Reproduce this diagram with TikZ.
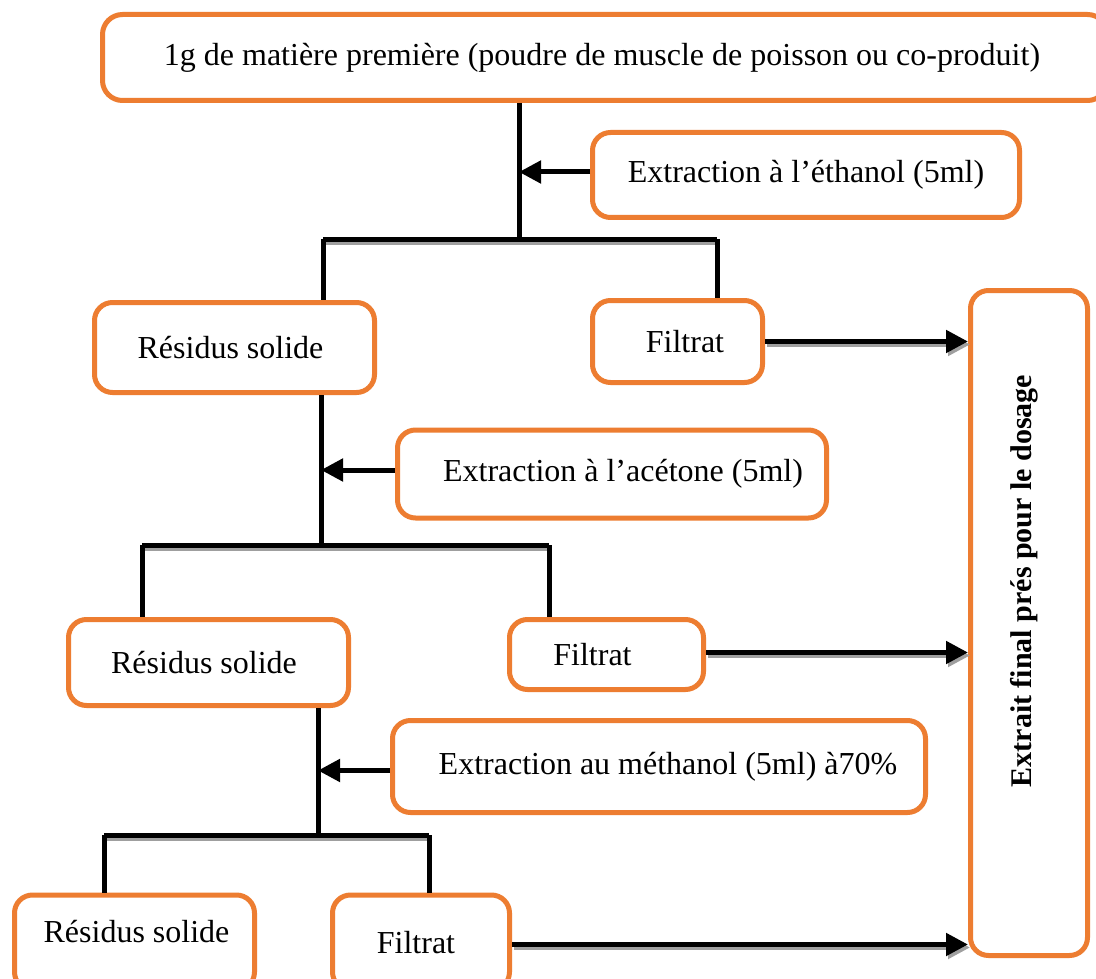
\documentclass[tikz,border=0pt]{standalone}
\usepackage{fontspec}
\setmainfont{Liberation Serif}
\usetikzlibrary{arrows.meta}
\definecolor{boxorange}{HTML}{ED7D31}
\tikzset{
  box/.style={draw=boxorange, line width=5pt, rounded corners=18pt, fill=white,
    inner sep=0pt, font=\fontsize{32}{38}\selectfont, anchor=center},
  link/.style={draw=black, line width=5pt},
  shadowed/.style={preaction={draw=gray!75, line width=5pt,
    transform canvas={shift={(2pt,-3pt)}}}},
  arr/.style={link, -{Triangle[length=22pt,width=22pt]}},
}
\begin{document}
\begin{tikzpicture}[x=1pt,y=-1pt]
\path[use as bounding box, clip] (0,0) rectangle (1096,979);
\fill[white] (0,0) rectangle (1096,979);

% boxes
\node[box, minimum width=1005pt, minimum height=86pt, rounded corners=20pt] (top) at (605,57.5)
  {\hspace*{-6pt}1g de matière première (poudre de muscle de poisson ou co-produit)};
\node[box, minimum width=427pt, minimum height=85pt] (eth) at (806,175)
  {Extraction à l’éthanol (5ml)};
\node[box, minimum width=280pt, minimum height=90pt] (r1) at (234.5,347.5)
  {\hspace*{-8pt}Résidus solide};
\node[box, minimum width=170pt, minimum height=82pt] (f1) at (677.5,341.5)
  {\hspace*{15pt}Filtrat};
\node[box, minimum width=117pt, minimum height=665pt] (fin) at (1029,623) {};
\node[font=\bfseries\fontsize{30}{36}\selectfont, rotate=90, inner sep=0pt] (fintxt) at (1024,581)
  {Extrait final prés pour le dosage};
\node[box, minimum width=429pt, minimum height=88pt] (acet) at (612,474)
  {\hspace*{22pt}Extraction à l’acétone (5ml)};
\node[box, minimum width=280pt, minimum height=86pt] (r2) at (208.5,662.5)
  {\hspace*{-9pt}Résidus solide};
\node[box, minimum width=194pt, minimum height=70pt] (f2) at (606.5,654.5)
  {\hspace*{-28pt}Filtrat};
\node[box, minimum width=533pt, minimum height=92pt] (meth) at (659,766.5)
  {\hspace*{18pt}Extraction au méthanol (5ml) à70\%};
\node[box, minimum width=240pt, minimum height=95pt] (r3) at (134.5,942.5)
  {\raisebox{22pt}{\hspace*{4pt}Résidus solide}};
\node[box, minimum width=177pt, minimum height=95pt] (f3) at (421,942.5)
  {\hspace*{-10pt}Filtrat};

% junctions
\coordinate (j1) at (519,239);
\coordinate (j1l) at (323,239);
\coordinate (j1r) at (717,239);
\coordinate (j2) at (321,545);
\coordinate (j2l) at (142,545);
\coordinate (j2r) at (549,545);
\coordinate (j3) at (318,835);
\coordinate (j3l) at (104,835);
\coordinate (j3r) at (429,835);

% tree 1
\draw[link] (top.south -| j1) -- (j1);
\draw[link, shadowed] (j1l) -- (j1r);
\draw[link] (j1l) -- (j1l |- r1.north);
\draw[link] (j1r) -- (j1r |- f1.north);
\draw[arr] ([yshift=3pt]eth.west) -- ([yshift=3pt]eth.west -| j1);
\draw[arr, shadowed] (f1.east) -- (f1.east -| fin.west);

% tree 2
\draw[link] (r1.south -| j2) -- (j2);
\draw[link, shadowed] (j2l) -- (j2r);
\draw[link] (j2l) -- (j2l |- r2.north);
\draw[link] (j2r) -- (j2r |- f2.north);
\draw[arr] ([yshift=4pt]acet.west) -- ([yshift=4pt]acet.west -| j2);
\draw[arr, shadowed] ([yshift=2pt]f2.east) -- ([yshift=2pt]f2.east -| fin.west);

% tree 3
\draw[link] (r2.south -| j3) -- (j3);
\draw[link, shadowed] (j3l) -- (j3r);
\draw[link] (j3l) -- (j3l |- r3.north);
\draw[link] (j3r) -- (j3r |- f3.north);
\draw[arr] ([yshift=-4pt]meth.west) -- ([yshift=-4pt]meth.west -| j3);
\draw[arr, shadowed] ([yshift=-2pt]f3.east) -- ([yshift=-2pt]f3.east -| fin.west);
\end{tikzpicture}
\end{document}
